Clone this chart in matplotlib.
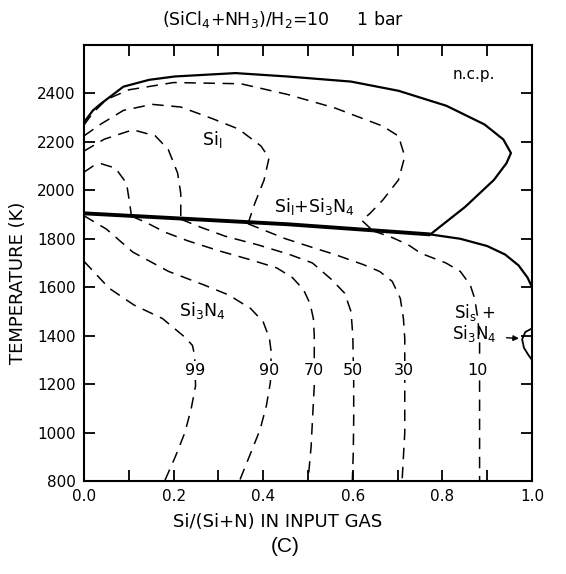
import matplotlib
matplotlib.use("Agg")
import matplotlib.pyplot as plt

plt.rcParams['font.family'] = ['DejaVu Sans']
plt.rcParams['mathtext.fontset'] = 'dejavusans'

# ---- phase boundaries ----
# upper solid boundary (no condensed phase above), running round the nose
ncp_x = [0.0, 0.02, 0.038, 0.088, 0.145, 0.202, 0.338, 0.454, 0.596, 0.702,
         0.809, 0.894, 0.936, 0.953, 0.943, 0.915, 0.851, 0.773]
ncp_T = [2281, 2330, 2358, 2428, 2456, 2470, 2484, 2470, 2449, 2411,
         2349, 2272, 2210, 2154, 2112, 2043, 1932, 1818]

# heavy boundary between Si(l) and Si3N4 fields
liq_x = [0.0, 0.454, 0.773]
liq_T = [1905, 1860, 1818]

# lower solid boundary towards the Si-rich edge
low_x = [0.773, 0.84, 0.9, 0.94, 0.97, 0.99, 1.0]
low_T = [1818, 1800, 1770, 1735, 1690, 1640, 1600]

# small Si(s)+Si3N4 pocket at Si/(Si+N) = 1
sis_x = [1.0, 0.985, 0.978, 0.982, 0.992, 1.0]
sis_T = [1430, 1415, 1385, 1350, 1320, 1300]

# ---- iso-yield curves (dashed) ----
u1_x = [0.0, 0.02, 0.038, 0.07, 0.095, 0.102, 0.106]
u1_T = [2075, 2100, 2110, 2092, 2029, 1945, 1893]
u2_x = [0.0, 0.045, 0.109, 0.159, 0.188, 0.209, 0.216, 0.216]
u2_T = [2162, 2211, 2250, 2225, 2169, 2071, 1987, 1881]
u3_x = [0.0, 0.038, 0.088, 0.152, 0.216, 0.288, 0.345, 0.395, 0.413, 0.402, 0.381, 0.366]
u3_T = [2225, 2274, 2330, 2355, 2344, 2295, 2253, 2183, 2134, 2043, 1945, 1862]
u4_x = [0.0, 0.02, 0.05, 0.1, 0.2, 0.35, 0.454, 0.56, 0.667, 0.702, 0.716,
        0.702, 0.667, 0.638, 0.62, 0.645]
u4_T = [2270, 2320, 2375, 2415, 2445, 2440, 2396, 2340, 2265, 2224, 2140,
        2043, 1960, 1904, 1876, 1833]

c99_x = [0.0, 0.056, 0.112, 0.175, 0.225, 0.242, 0.247, 0.249, 0.239, 0.225, 0.204, 0.18]
c99_T = [1707, 1596, 1526, 1471, 1394, 1360, 1318, 1193, 1096, 999, 901, 800]
c90_x = [0.0, 0.05, 0.109, 0.189, 0.267, 0.323, 0.372, 0.400, 0.414, 0.418,
         0.416, 0.407, 0.393, 0.372, 0.347]
c90_T = [1895, 1840, 1745, 1665, 1610, 1568, 1512, 1457, 1388, 1330,
         1207, 1110, 1012, 915, 800]
c70_x = [0.106, 0.138, 0.181, 0.231, 0.302, 0.374, 0.43, 0.465, 0.49, 0.505,
         0.512, 0.514, 0.514, 0.51, 0.507, 0.5]
c70_T = [1893, 1868, 1827, 1792, 1750, 1712, 1680, 1640, 1590, 1530,
         1470, 1400, 1193, 1054, 943, 800]
c50_x = [0.216, 0.26, 0.316, 0.388, 0.459, 0.51, 0.553, 0.582, 0.596, 0.6,
         0.602, 0.602, 0.601, 0.599]
c50_T = [1881, 1848, 1810, 1775, 1735, 1700, 1631, 1575, 1499, 1401,
         1207, 1054, 915, 800]
c30_x = [0.366, 0.45, 0.5, 0.56, 0.624, 0.66, 0.688, 0.706, 0.713, 0.716,
         0.716, 0.716, 0.71]
c30_T = [1862, 1800, 1770, 1735, 1693, 1665, 1624, 1554, 1471, 1388,
         1193, 1000, 800]
c10_x = [0.645, 0.688, 0.723, 0.752, 0.808, 0.840, 0.862, 0.872, 0.879,
         0.883, 0.883, 0.883]
c10_T = [1833, 1805, 1776, 1740, 1700, 1665, 1610, 1554, 1471,
         1388, 1100, 800]

iso_labels = ["99", "90", "70", "50", "30", "10"]
iso_label_x = [0.247, 0.414, 0.514, 0.600, 0.713, 0.879]
iso_label_T = 1256

x_ticks = [0.0, 0.2, 0.4, 0.6, 0.8, 1.0]
x_tick_labels = ["0.0", "0.2", "0.4", "0.6", "0.8", "1.0"]
x_minor = [0.1, 0.3, 0.5, 0.7, 0.9]
y_ticks = [800, 1000, 1200, 1400, 1600, 1800, 2000, 2200, 2400, 2600]
y_tick_labels = ["800", "1000", "1200", "1400", "1600", "1800", "2000", "2200", "2400", ""]

W, H = 566, 574
fig = plt.figure(figsize=(W / 100, H / 100), dpi=100)
ax = fig.add_axes([84 / W, 1 - 481 / H, 448 / W, 436 / H])

solid = dict(color="black", lw=1.6, solid_capstyle="round")
dash = dict(color="black", lw=1.1, dashes=(7.5, 5))

ax.plot(ncp_x, ncp_T, **solid)
ax.plot(low_x, low_T, **solid)
ax.plot(sis_x, sis_T, color="black", lw=1.3)
ax.plot(liq_x, liq_T, color="black", lw=2.8, solid_capstyle="butt")

for xs, ts in [(u1_x, u1_T), (u2_x, u2_T), (u3_x, u3_T), (u4_x, u4_T),
               (c99_x, c99_T), (c90_x, c90_T), (c70_x, c70_T),
               (c50_x, c50_T), (c30_x, c30_T), (c10_x, c10_T)]:
    ax.plot(xs, ts, **dash)

for lab, lx in zip(iso_labels, iso_label_x):
    ax.text(lx, iso_label_T, lab, ha="center", va="center", fontsize=11.5,
            bbox=dict(facecolor="white", edgecolor="none", pad=1.5), zorder=5)

ax.text(0.87, 2480, "n.c.p.", ha="center", va="center", fontsize=11)
ax.text(0.285, 2210, r"Si$_{\rm l}$", ha="center", va="center", fontsize=12.5)
ax.text(0.515, 1932, r"Si$_{\rm l}$+Si$_3$N$_4$", ha="center", va="center", fontsize=12.5,
        bbox=dict(facecolor="white", edgecolor="none", pad=0.5), zorder=4)
ax.text(0.265, 1505, r"Si$_3$N$_4$", ha="center", va="center", fontsize=12.5,
        bbox=dict(facecolor="white", edgecolor="none", pad=0.5), zorder=4)
ax.text(0.872, 1495, r"Si$_{\rm s}$ +", ha="center", va="center", fontsize=12)
ax.text(0.872, 1410, r"Si$_3$N$_4$", ha="center", va="center", fontsize=12)
ax.annotate("", xy=(0.977, 1388), xytext=(0.937, 1392),
            arrowprops=dict(arrowstyle="-|>", color="black", lw=1.0,
                            mutation_scale=8))

ax.set_xlim(0, 1)
ax.set_ylim(800, 2600)
ax.set_xticks(x_ticks)
ax.set_xticklabels(x_tick_labels)
ax.set_xticks(x_minor, minor=True)
ax.set_yticks(y_ticks)
ax.set_yticklabels(y_tick_labels)
ax.tick_params(which="both", direction="in", length=8, width=1.3,
               top=True, right=True, labelsize=11, pad=6)
for s in ax.spines.values():
    s.set_linewidth(1.5)

fig.text(283 / W, 1 - 19 / H, r"(SiCl$_4$+NH$_3$)/H$_2$=10     1 bar",
         ha="center", va="center", fontsize=12.5)
fig.text(278 / W, 1 - 522 / H, "Si/(Si+N) IN INPUT GAS",
         ha="center", va="center", fontsize=13)
fig.text(18 / W, 1 - 283 / H, "TEMPERATURE (K)", rotation=90,
         ha="center", va="center", fontsize=13)
fig.text(285 / W, 1 - 546 / H, "(C)", ha="center", va="center", fontsize=15,
         family="Liberation Sans")

fig.savefig("out.png", dpi=100, facecolor="white")
